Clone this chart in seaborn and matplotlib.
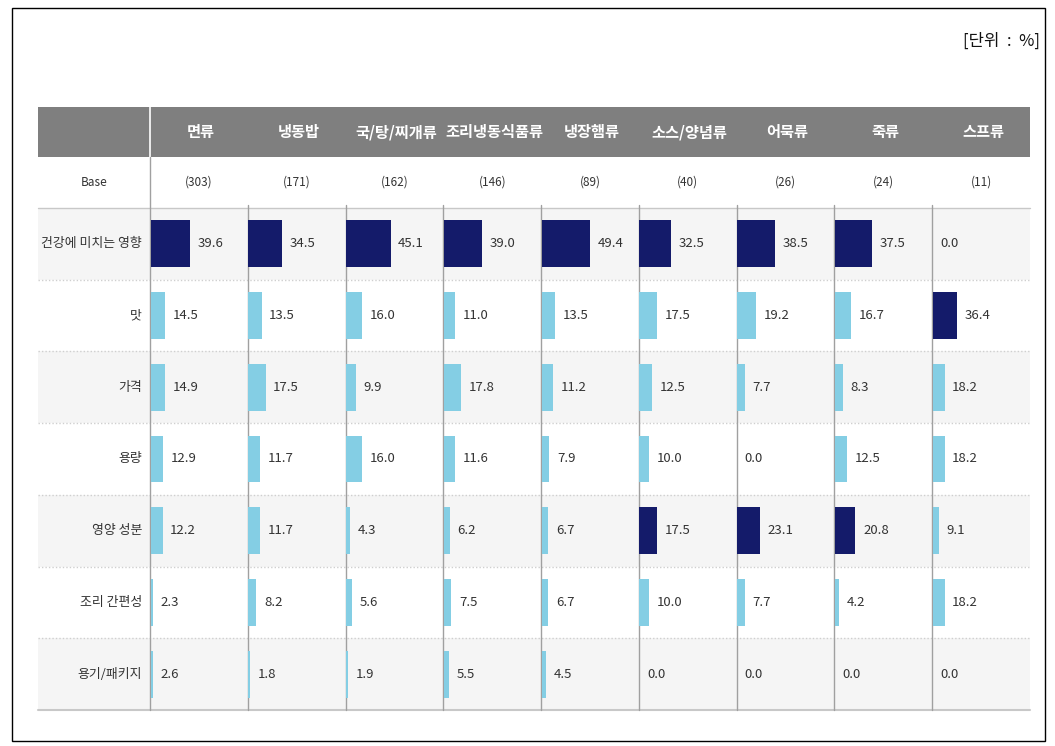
import matplotlib
matplotlib.use("Agg")
import matplotlib.pyplot as plt
import seaborn as sns
import pandas as pd
from matplotlib.patches import Rectangle

# ---------------- data ----------------
categories = ['면류', '냉동밥', '국/탕/찌개류', '조리냉동식품류', '냉장햄류',
              '소스/양념류', '어묵류', '죽류', '스프류']
base_n = [303, 171, 162, 146, 89, 40, 26, 24, 11]
factors = ['건강에 미치는 영향', '맛', '가격', '용량', '영양 성분', '조리 간편성', '용기/패키지']

v_noodle = [39.6, 14.5, 14.9, 12.9, 12.2, 2.3, 2.6]
v_rice = [34.5, 13.5, 17.5, 11.7, 11.7, 8.2, 1.8]
v_soup = [45.1, 16.0, 9.9, 16.0, 4.3, 5.6, 1.9]
v_frozen = [39.0, 11.0, 17.8, 11.6, 6.2, 7.5, 5.5]
v_ham = [49.4, 13.5, 11.2, 7.9, 6.7, 6.7, 4.5]
v_sauce = [32.5, 17.5, 12.5, 10.0, 17.5, 10.0, 0.0]
v_fishcake = [38.5, 19.2, 7.7, 0.0, 23.1, 7.7, 0.0]
v_porridge = [37.5, 16.7, 8.3, 12.5, 20.8, 4.2, 0.0]
v_soupmix = [0.0, 36.4, 18.2, 18.2, 9.1, 18.2, 0.0]
values = [v_noodle, v_rice, v_soup, v_frozen, v_ham, v_sauce, v_fishcake, v_porridge, v_soupmix]

# highlighted (dark) cells
h_noodle = [1, 0, 0, 0, 0, 0, 0]
h_rice = [1, 0, 0, 0, 0, 0, 0]
h_soup = [1, 0, 0, 0, 0, 0, 0]
h_frozen = [1, 0, 0, 0, 0, 0, 0]
h_ham = [1, 0, 0, 0, 0, 0, 0]
h_sauce = [1, 0, 0, 0, 1, 0, 0]
h_fishcake = [1, 0, 0, 0, 1, 0, 0]
h_porridge = [1, 0, 0, 0, 1, 0, 0]
h_soupmix = [0, 1, 0, 0, 0, 0, 0]
highlights = [h_noodle, h_rice, h_soup, h_frozen, h_ham, h_sauce, h_fishcake, h_porridge, h_soupmix]

# per-column axis maximum (the last column uses a different scale in the original)
col_xmax = [98, 98, 98, 98, 98, 98, 98, 98, 148]

# ---------------- style ----------------
sns.set_style("white")
FONT = ['Noto Sans CJK KR', 'DejaVu Sans']
plt.rcParams['font.family'] = FONT

DARK = '#141B6A'
LIGHT = '#84CEE4'
HEADER = '#7F7F7F'
BAND = '#F5F5F5'
LINE = '#A0A0A0'

W, H = 1055, 746
fig = plt.figure(figsize=(W / 100, H / 100), dpi=100)
bg = fig.add_axes([0, 0, 1, 1])
bg.set_xlim(0, W)
bg.set_ylim(H, 0)
bg.axis('off')

# outer frame
bg.add_patch(Rectangle((12, 8), 1033, 733, fill=False, edgecolor='black', linewidth=1.0))
bg.text(1040, 41, '[단위  :  %]', ha='right', va='center', fontsize=12, color='#111111')

# table geometry (pixels)
tx0, tx1 = 38, 1030
lab_x1 = 150
col_w = (tx1 - lab_x1) / len(categories)
col_left = [lab_x1 + i * col_w for i in range(len(categories))]
hdr_y0, hdr_y1 = 107, 157
base_y1 = 208
data_y1 = 710
row_h = (data_y1 - base_y1) / len(factors)

# header
bg.add_patch(Rectangle((tx0, hdr_y0), tx1 - tx0, hdr_y1 - hdr_y0, facecolor=HEADER, edgecolor='none'))
bg.plot([lab_x1, lab_x1], [hdr_y0, hdr_y1], color='white', lw=1.2)
for i, c in enumerate(categories):
    bg.text(col_left[i] + col_w / 2 + 2, (hdr_y0 + hdr_y1) / 2, c, ha='center', va='center',
            color='white', fontsize=11, fontweight='bold')

# base row
bg.text((tx0 + lab_x1) / 2, (hdr_y1 + base_y1) / 2, 'Base', ha='center', va='center',
        fontsize=8.5, color='#333333')
for i, n in enumerate(base_n):
    bg.text(col_left[i] + col_w / 2, (hdr_y1 + base_y1) / 2, f'({n})', ha='center', va='center',
            fontsize=8.5, color='#333333')
bg.plot([tx0, tx1], [base_y1, base_y1], color='#C8C8C8', lw=1.0)

# data rows: bands, labels, separators
for r, f in enumerate(factors):
    y0 = base_y1 + r * row_h
    if r % 2 == 0:
        bg.add_patch(Rectangle((tx0, y0), tx1 - tx0, row_h, facecolor=BAND, edgecolor='none', zorder=0))
    bg.text(lab_x1 - 8, y0 + row_h / 2, f, ha='right', va='center', fontsize=9.3, color='#333333')
    if r > 0:
        bg.plot([tx0, tx1], [y0, y0], color='#CFCFCF', lw=1.0, linestyle=(0, (1, 1.5)))
bg.plot([tx0, tx1], [data_y1, data_y1], color='#C8C8C8', lw=1.5)

# vertical lines
bg.plot([lab_x1, lab_x1], [hdr_y1, data_y1], color=LINE, lw=1.0)
for i in range(1, len(categories)):
    x = col_left[i]
    bg.plot([x, x], [base_y1 - 3, data_y1], color=LINE, lw=1.0)

# bar panels
for i, c in enumerate(categories):
    ax = fig.add_axes([(col_left[i] + 0.5) / W, 1 - data_y1 / H, (col_w - 1) / W, (data_y1 - base_y1) / H])
    ax.patch.set_alpha(0)
    df = pd.DataFrame({'factor': factors, 'value': values[i],
                       'hl': ['y' if h else 'n' for h in highlights[i]]})
    sns.barplot(data=df, x='value', y='factor', hue='hl', palette={'y': DARK, 'n': LIGHT},
                hue_order=['y', 'n'], order=factors, orient='h', dodge=False, width=0.655,
                legend=False, ax=ax, saturation=1, edgecolor='none', linewidth=0)
    ax.set_xlim(0, col_xmax[i])
    ax.set_ylim(len(factors) - 0.5, -0.5)
    ax.axis('off')
    for r, v in enumerate(values[i]):
        ax.annotate(f'{v:.1f}', xy=(v, r), xytext=(5.5, 0), textcoords='offset points',
                    ha='left', va='center', fontsize=9.5, color='#333333')

fig.savefig('out.png', dpi=100)
